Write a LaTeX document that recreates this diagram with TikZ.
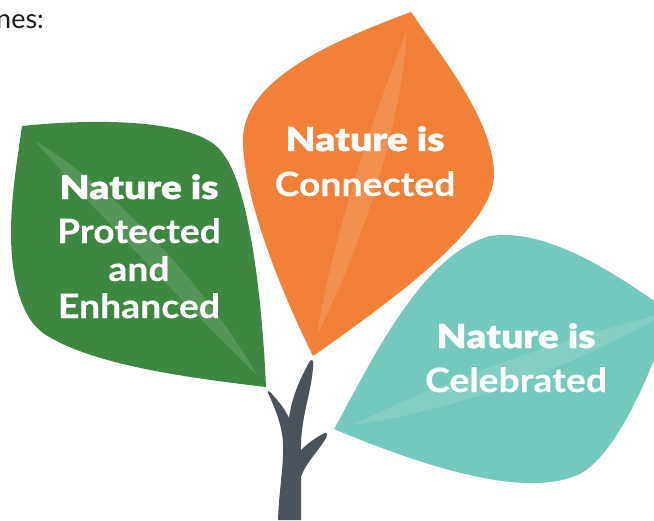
\documentclass[tikz,border=0pt]{standalone}
\usepackage{fontspec}
\setmainfont{Lato}
\newfontfamily\headfont{Lato Black}[FakeStretch=1.18,FakeBold=1.0]
\newfontfamily\semibold{Lato Bold}[FakeStretch=1.115,FakeBold=0.25]
\definecolor{leafgreen}{HTML}{3E8741}
\definecolor{leaforange}{HTML}{F28037}
\definecolor{leafteal}{HTML}{73C9BC}
\definecolor{trunkgrey}{HTML}{4A525B}
\tikzset{
  headtext/.style={text=white,anchor=base,font=\headfont\fontsize{33}{33}\selectfont,inner sep=0pt},
  subtext/.style={text=white,anchor=base,font=\semibold\fontsize{33.5}{33}\selectfont,inner sep=0pt},
  vein/.style={fill=white,fill opacity=.12,draw=none},
}
\begin{document}
\begin{tikzpicture}[x=1pt,y=-1pt]
\useasboundingbox (0,0) rectangle (654,520);
\clip (0,0) rectangle (654,520);
% green leaf
\fill[leafgreen] (22,126) .. controls (90,119) and (175,119) .. (211,142)
  .. controls (232,155) and (243,195) .. (250,233)
  .. controls (259,280) and (264,340) .. (266,387)
  .. controls (190,378) and (90,365) .. (43,333)
  .. controls (22,318) and (11,280) .. (11,233)
  .. controls (11,195) and (18,155) .. (22,126) -- cycle;
\fill[vein] (35,141) .. controls (115,188) and (205,285) .. (257,375)
  .. controls (185,305) and (95,210) .. (35,141) -- cycle;
% orange leaf
\fill[leaforange] (411,12) .. controls (440,55) and (494,120) .. (494,175)
  .. controls (494,225) and (400,295) .. (313,356)
  .. controls (285,300) and (243,200) .. (243,140)
  .. controls (243,80) and (330,42) .. (411,12) -- cycle;
\fill[vein] (407,30) .. controls (402,120) and (365,240) .. (317,335)
  .. controls (332,240) and (372,120) .. (407,30) -- cycle;
% teal leaf
\fill[leafteal] (334,429) .. controls (370,365) and (420,255) .. (490,236)
  .. controls (545,228) and (610,270) .. (660,305)
  -- (660,345) .. controls (635,410) and (605,465) .. (575,476)
  .. controls (520,498) and (420,465) .. (334,429) -- cycle;
\fill[vein] (352,425) .. controls (450,378) and (560,340) .. (654,316)
  -- (654,320) .. controls (560,372) and (450,412) .. (352,425) -- cycle;
% trunk
\fill[trunkgrey] (278,520) .. controls (279,490) and (284,465) .. (283,443)
  .. controls (282,425) and (275,408) .. (268,393)
  .. controls (267,390) and (270,391) .. (272,394)
  .. controls (279,402) and (285,409) .. (289,418)
  .. controls (292,395) and (302,375) .. (310,361)
  .. controls (313,358) and (314,362) .. (313,367)
  .. controls (312,390) and (300,420) .. (301,450)
  .. controls (308,443) and (318,436) .. (325,433)
  .. controls (328,433) and (327,436) .. (326,438)
  .. controls (318,452) and (306,462) .. (301,477)
  -- (301,520) -- cycle;
% text
\node[anchor=base west,inner sep=0pt,font=\fontsize{27}{27}\selectfont,text=black!90] (head) at (-4,28) {nes:};
\node[headtext] (n1) at (139,199) {Nature is};
\node[subtext] (p1) at (139,243) {Protected};
\node[subtext] (p2) at (139,281) {and};
\node[subtext] (p3) at (139,318) {Enhanced};
\node[headtext] (n2) at (365,151) {Nature is};
\node[subtext] (c1) at (365,196) {Connected};
\node[headtext] (n3) at (516,348) {Nature is};
\node[subtext] (c2) at (516,392) {Celebrated};
\end{tikzpicture}
\end{document}
